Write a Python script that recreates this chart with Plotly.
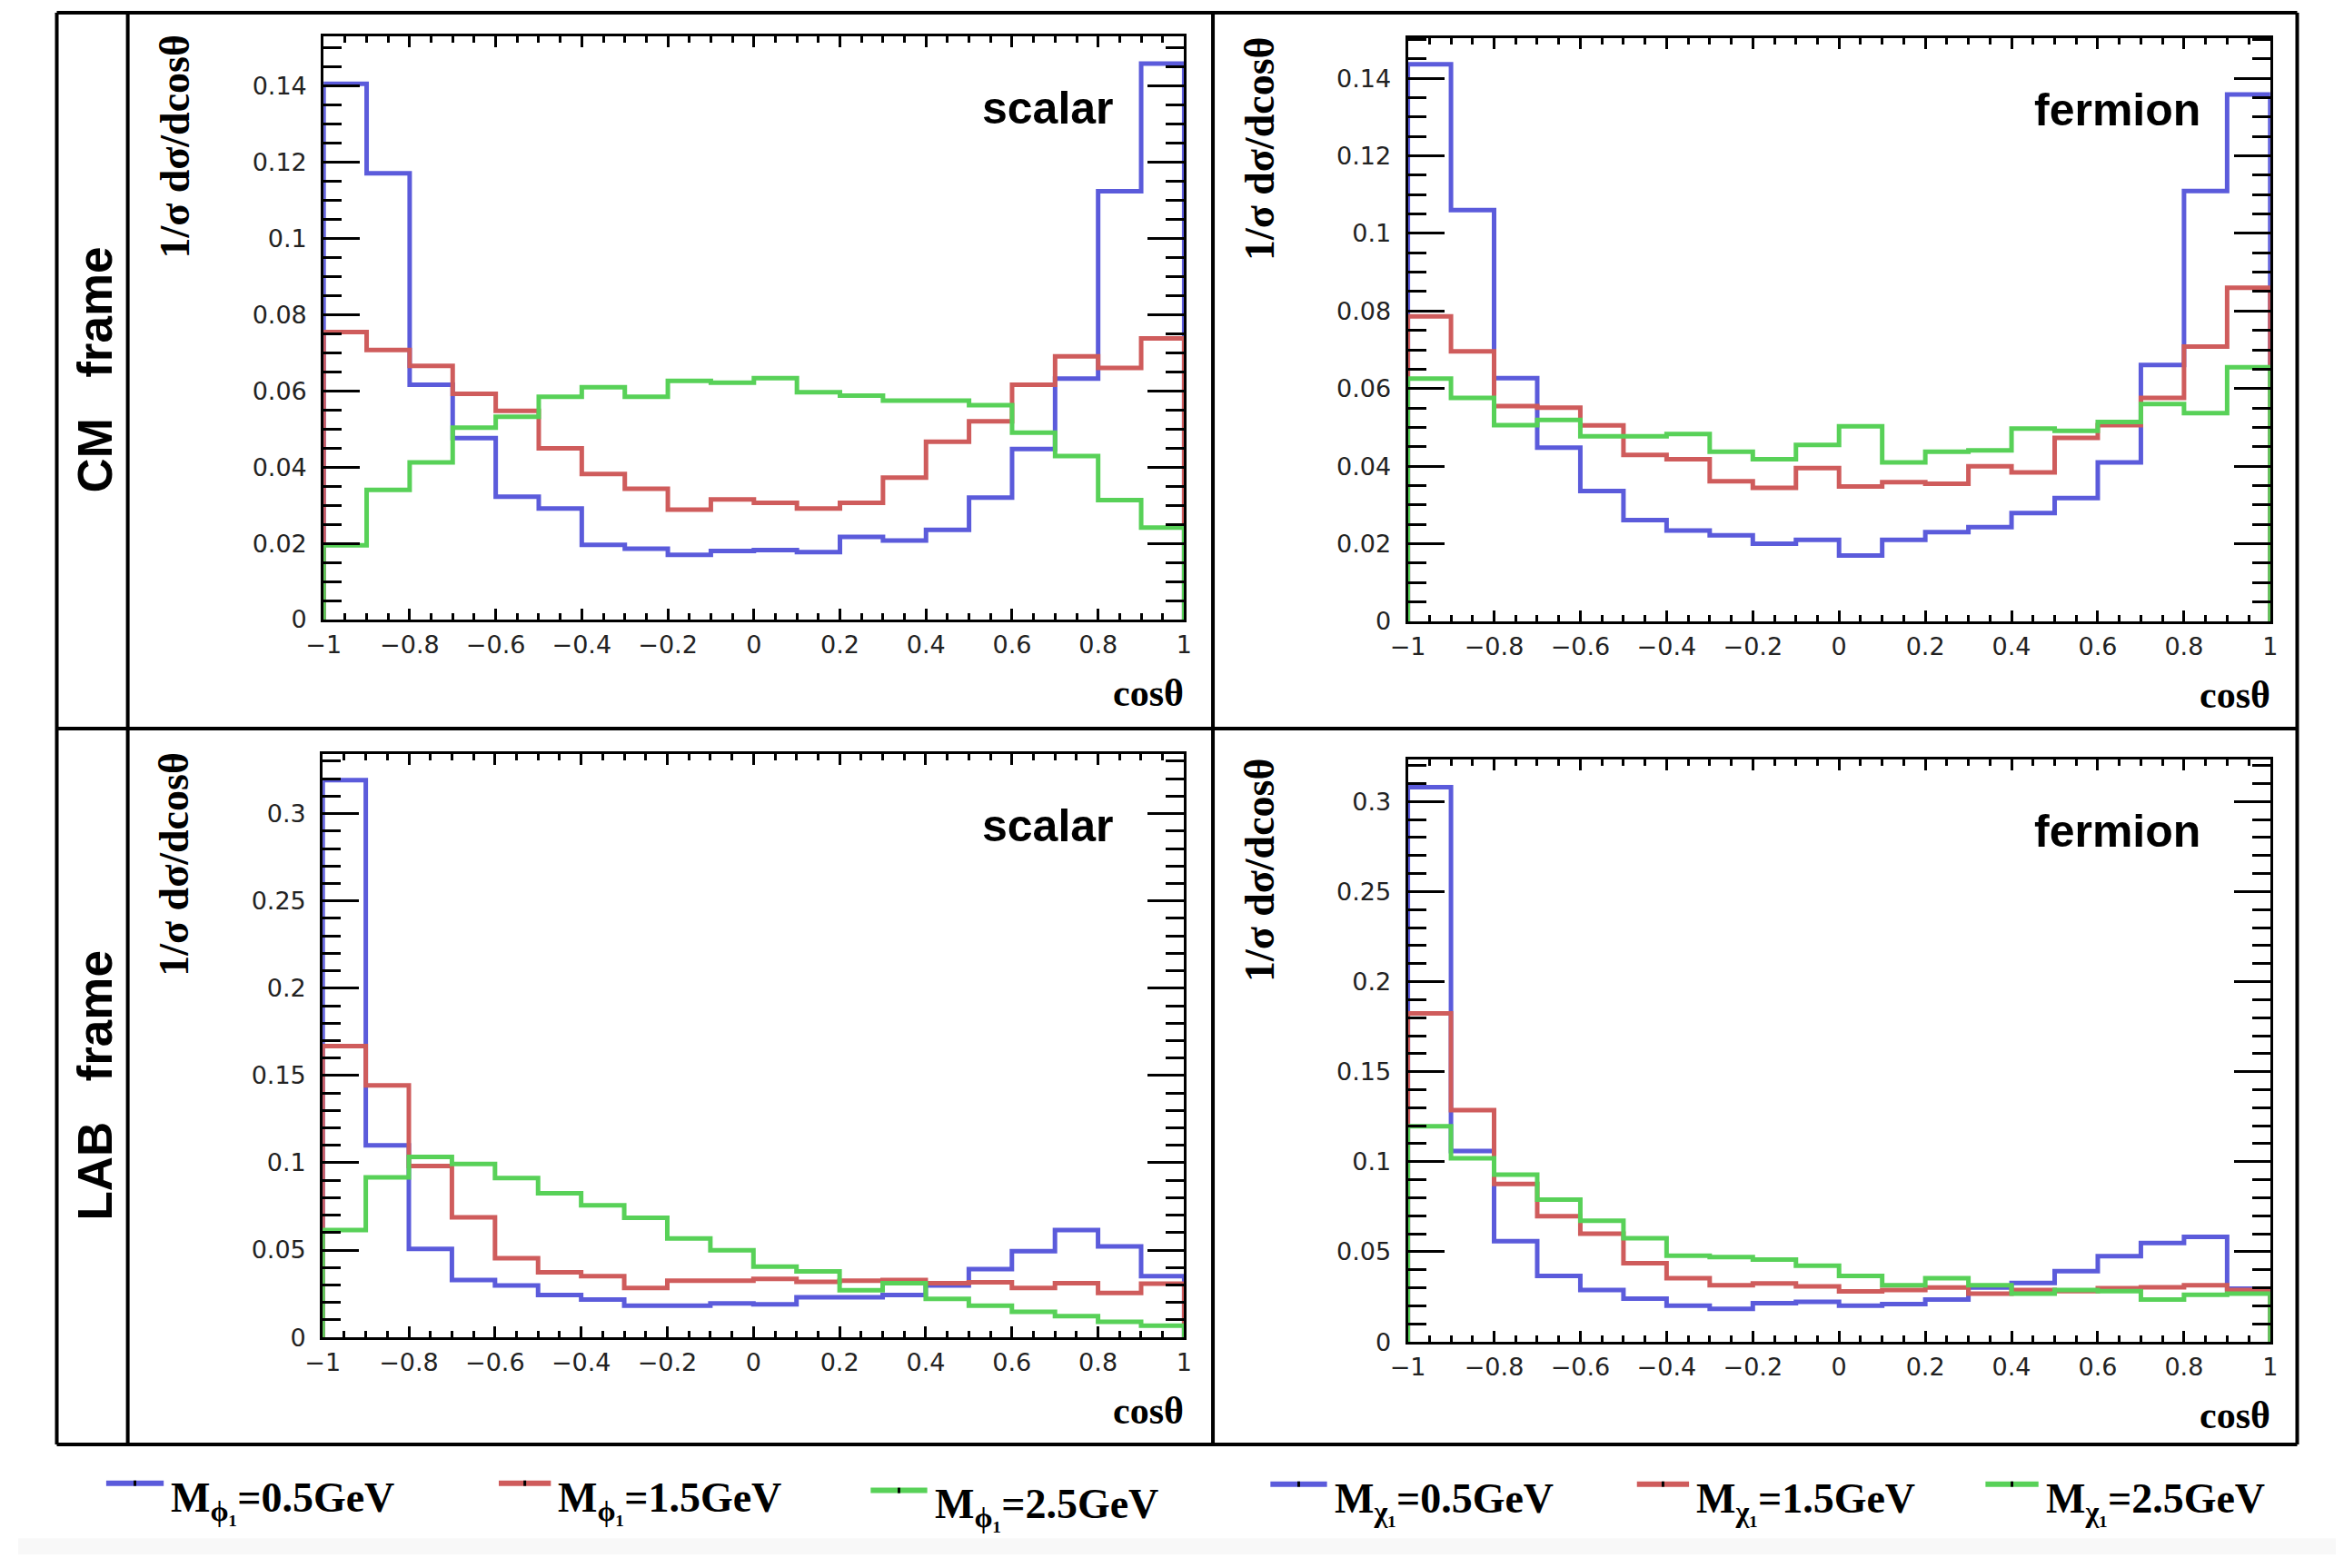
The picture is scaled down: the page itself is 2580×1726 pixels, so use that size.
"""Angular distributions cos(theta) in CM and LAB frames, scalar vs fermion DM."""

import numpy as np
import plotly.graph_objects as go

W, H = 2580, 1726

# 20 bins on cos(theta) from -1 to 1
BIN_EDGES = np.round(np.linspace(-1.0, 1.0, 21), 2)

# CM frame, scalar (M_phi1 = 0.5, 1.5, 2.5 GeV)
CM_SCALAR_05 = [0.1405, 0.1170, 0.0616, 0.0476, 0.0322, 0.0291, 0.0196, 0.0186, 0.0170, 0.0180,
                0.0182, 0.0177, 0.0217, 0.0207, 0.0235, 0.0320, 0.0447, 0.0632, 0.1123, 0.1458]
CM_SCALAR_15 = [0.0754, 0.0707, 0.0665, 0.0592, 0.0547, 0.0449, 0.0382, 0.0343, 0.0288, 0.0315,
                0.0306, 0.0291, 0.0306, 0.0372, 0.0466, 0.0520, 0.0616, 0.0690, 0.0660, 0.0737]
CM_SCALAR_25 = [0.0195, 0.0340, 0.0412, 0.0503, 0.0532, 0.0584, 0.0609, 0.0584, 0.0626, 0.0621,
                0.0633, 0.0596, 0.0587, 0.0574, 0.0574, 0.0562, 0.0490, 0.0429, 0.0313, 0.0241]

# CM frame, fermion (M_chi1 = 0.5, 1.5, 2.5 GeV)
CM_FERMION_05 = [0.1436, 0.1060, 0.0627, 0.0448, 0.0336, 0.0261, 0.0234, 0.0222, 0.0200, 0.0210,
                 0.0170, 0.0210, 0.0230, 0.0243, 0.0279, 0.0318, 0.0410, 0.0661, 0.1109, 0.1358]
CM_FERMION_15 = [0.0786, 0.0696, 0.0555, 0.0551, 0.0505, 0.0429, 0.0418, 0.0361, 0.0344, 0.0395,
                 0.0348, 0.0359, 0.0355, 0.0400, 0.0384, 0.0473, 0.0506, 0.0576, 0.0708, 0.0860]
CM_FERMION_25 = [0.0626, 0.0576, 0.0506, 0.0519, 0.0477, 0.0477, 0.0483, 0.0437, 0.0418, 0.0455,
                 0.0503, 0.0410, 0.0437, 0.0441, 0.0497, 0.0491, 0.0514, 0.0560, 0.0537, 0.0655]

# LAB frame, scalar
LAB_SCALAR_05 = [0.3192, 0.1100, 0.0507, 0.0329, 0.0297, 0.0243, 0.0216, 0.0181, 0.0181, 0.0194,
                 0.0189, 0.0229, 0.0229, 0.0243, 0.0297, 0.0391, 0.0494, 0.0615, 0.0521, 0.0351]
LAB_SCALAR_15 = [0.1668, 0.1444, 0.0982, 0.0688, 0.0453, 0.0372, 0.0351, 0.0283, 0.0324, 0.0324,
                 0.0335, 0.0318, 0.0324, 0.0329, 0.0310, 0.0316, 0.0283, 0.0310, 0.0254, 0.0308]
LAB_SCALAR_25 = [0.0615, 0.0917, 0.1033, 0.0993, 0.0912, 0.0826, 0.0756, 0.0685, 0.0567, 0.0499,
                 0.0405, 0.0378, 0.0270, 0.0310, 0.0221, 0.0181, 0.0146, 0.0121, 0.0089, 0.0067]

# LAB frame, fermion
LAB_FERMION_05 = [0.3079, 0.1059, 0.0559, 0.0366, 0.0288, 0.0240, 0.0201, 0.0183, 0.0214, 0.0222,
                  0.0201, 0.0209, 0.0235, 0.0301, 0.0327, 0.0392, 0.0476, 0.0549, 0.0583, 0.0295]
LAB_FERMION_15 = [0.1824, 0.1286, 0.0876, 0.0698, 0.0601, 0.0436, 0.0353, 0.0314, 0.0324, 0.0308,
                  0.0280, 0.0288, 0.0301, 0.0267, 0.0288, 0.0282, 0.0298, 0.0303, 0.0314, 0.0288]
LAB_FERMION_25 = [0.1197, 0.1019, 0.0928, 0.0789, 0.0672, 0.0575, 0.0478, 0.0470, 0.0457, 0.0423,
                  0.0366, 0.0314, 0.0353, 0.0314, 0.0267, 0.0288, 0.0282, 0.0235, 0.0261, 0.0267]

COLORS = ["#5B5BDB", "#CF5C5C", "#58D158"]
SCALAR_NAMES = ["M<sub>ϕ₁</sub>=0.5GeV", "M<sub>ϕ₁</sub>=1.5GeV", "M<sub>ϕ₁</sub>=2.5GeV"]
FERMION_NAMES = ["M<sub>χ₁</sub>=0.5GeV", "M<sub>χ₁</sub>=1.5GeV", "M<sub>χ₁</sub>=2.5GeV"]

TICK_FONT = dict(family="DejaVu Sans, Liberation Sans", size=27, color="#222")
SERIF = "Liberation Serif, Times New Roman"
SANS = "Liberation Sans, Arial"


def px(x, y):
    """pixel position -> paper coords"""
    return x / W, 1 - y / H


def step_xy(values):
    # ROOT-like HIST outline: rise from 0 at left edge, drop to 0 at right edge
    xs = np.concatenate([[BIN_EDGES[0]], BIN_EDGES[:-1], [BIN_EDGES[-1]]])
    ys = np.concatenate([[0.0], values, [0.0]])
    return xs, ys


fig = go.Figure()

# (series, names, pixel box [x0, x1, ytop, ybottom], y max, y dtick, y minor, label)
panels = [
    ([CM_SCALAR_05, CM_SCALAR_15, CM_SCALAR_25], SCALAR_NAMES, (340, 1298, 40, 688), 0.1530, 0.02, 0.005, "scalar"),
    ([CM_FERMION_05, CM_FERMION_15, CM_FERMION_25], FERMION_NAMES, (1547, 2507, 42, 690), 0.1504, 0.02, 0.005, "fermion"),
    ([LAB_SCALAR_05, LAB_SCALAR_15, LAB_SCALAR_25], SCALAR_NAMES, (339, 1298, 837, 1485), 0.3343, 0.05, 0.01, "scalar"),
    ([LAB_FERMION_05, LAB_FERMION_15, LAB_FERMION_25], FERMION_NAMES, (1547, 2507, 843, 1490), 0.3235, 0.05, 0.01, "fermion"),
]

annotations = []
for i, (series, names, box, ymax, dy, dyminor, label) in enumerate(panels, start=1):
    sfx = "" if i == 1 else str(i)
    x0, x1, yt, yb = box
    for vals, name, col in zip(series, names, COLORS):
        xs, ys = step_xy(vals)
        fig.add_trace(go.Scatter(
            x=xs, y=ys, mode="lines", line=dict(color=col, width=5, shape="hv"),
            name=name, showlegend=False, xaxis="x" + sfx, yaxis="y" + sfx,
        ))

    fig.layout["xaxis" + sfx] = dict(
        domain=[x0 / W, x1 / W], anchor="y" + sfx, range=[-1, 1],
        tick0=-1, dtick=0.2, ticks="inside", ticklen=12, tickwidth=3, tickcolor="black",
        minor=dict(dtick=0.05, ticks="inside", ticklen=7, tickwidth=3, tickcolor="black"),
        showline=True, linewidth=3, linecolor="black", mirror="ticks",
        showgrid=False, zeroline=False, tickfont=TICK_FONT, ticklabelstandoff=2,
    )
    fig.layout["yaxis" + sfx] = dict(
        domain=[1 - yb / H, 1 - yt / H], anchor="x" + sfx, range=[0, ymax],
        tick0=0, dtick=dy, ticks="inside", ticklen=40, tickwidth=3, tickcolor="black",
        minor=dict(dtick=dyminor, ticks="inside", ticklen=20, tickwidth=3, tickcolor="black"),
        showline=True, linewidth=3, linecolor="black", mirror="ticks",
        showgrid=False, zeroline=False, tickfont=TICK_FONT, ticklabelstandoff=10,
    )

    # panel label, axis titles
    lx, ly = px(x1 - 76, yt + 80)
    annotations.append(dict(x=lx, y=ly, text=f"<b>{label}</b>", xanchor="right", yanchor="middle",
                            font=dict(family=SANS, size=50, color="black")))
    cx, cy = px(x1 + 2, yb + 82)
    annotations.append(dict(x=cx, y=cy, text="<b>cosθ</b>", xanchor="right", yanchor="middle",
                            font=dict(family=SERIF, size=42, color="black")))
    tx, ty = px(x0 - 165, yt + 123)
    annotations.append(dict(x=tx, y=ty, text="<b>1/σ dσ/dcosθ</b>", textangle=-90,
                            xanchor="center", yanchor="middle",
                            font=dict(family=SERIF, size=46, color="black")))

# row labels in the left column
for text, yc in [("CM\u00a0\u00a0\u00a0frame", 411), ("LAB\u00a0\u00a0\u00a0frame", 1206)]:
    ax, ay = px(85, yc)
    annotations.append(dict(x=ax, y=ay, text=f"<b>{text}</b>", textangle=-90,
                            xanchor="center", yanchor="middle",
                            font=dict(family=SANS, size=53, color="black")))

shapes = []
# faint grey strip at the very bottom of the page
g0, g1 = px(0, 1708), px(W, H)
shapes.append(dict(type="rect", xref="paper", yref="paper", x0=g0[0], y0=g0[1], x1=g1[0], y1=g1[1],
                   line=dict(width=0), fillcolor="#f8f8f8", layer="below"))

# outer frame and dividers
frame_lines = [
    (43, 14, 2537, 14), (43, 1604, 2537, 1604), (43, 14, 43, 1604), (2537, 14, 2537, 1604),
    (122, 14, 122, 1604), (1330, 14, 1330, 1604), (43, 809, 2537, 809),
]
for xa, ya, xb, yb_ in frame_lines:
    pa, pb = px(xa, ya), px(xb, yb_)
    shapes.append(dict(type="line", xref="paper", yref="paper", x0=pa[0], y0=pa[1], x1=pb[0], y1=pb[1],
                       line=dict(color="black", width=4)))

# legend row below the frame
legend_items = [
    (98, 162, 1647, SCALAR_NAMES[0], COLORS[0]),
    (535, 593, 1647, SCALAR_NAMES[1], COLORS[1]),
    (949, 1012, 1655, SCALAR_NAMES[2], COLORS[2]),
    (1394, 1457, 1648, FERMION_NAMES[0], COLORS[0]),
    (1802, 1860, 1648, FERMION_NAMES[1], COLORS[1]),
    (2190, 2249, 1648, FERMION_NAMES[2], COLORS[2]),
]
for xa, xb, yl, name, col in legend_items:
    pa, pb = px(xa, yl), px(xb, yl)
    shapes.append(dict(type="line", xref="paper", yref="paper", x0=pa[0], y0=pa[1], x1=pb[0], y1=pb[1],
                       line=dict(color=col, width=6)))
    m0, m1 = px((xa + xb) / 2 - 1.5, yl - 3), px((xa + xb) / 2 + 1.5, yl + 3)
    shapes.append(dict(type="rect", xref="paper", yref="paper", x0=m0[0], y0=m0[1], x1=m1[0], y1=m1[1],
                       line=dict(width=0), fillcolor="black"))
    tx, ty = px(xb + 6, yl + 19)
    annotations.append(dict(x=tx, y=ty, text=f"<b>{name}</b>", xanchor="left", yanchor="middle",
                            font=dict(family=SERIF, size=46, color="black")))

fig.update_layout(
    width=W, height=H, autosize=False,
    margin=dict(l=0, r=0, t=0, b=0),
    paper_bgcolor="white", plot_bgcolor="white",
    annotations=[dict(a, xref="paper", yref="paper", showarrow=False) for a in annotations],
    shapes=shapes,
    showlegend=False,
)

# drop the browser's default body margin so the figure sits at the page origin
fig.write_html(
    "out.html",
    config={"displayModeBar": False},
    post_script="document.body.style.margin='0';document.body.style.overflow='hidden';",
)
